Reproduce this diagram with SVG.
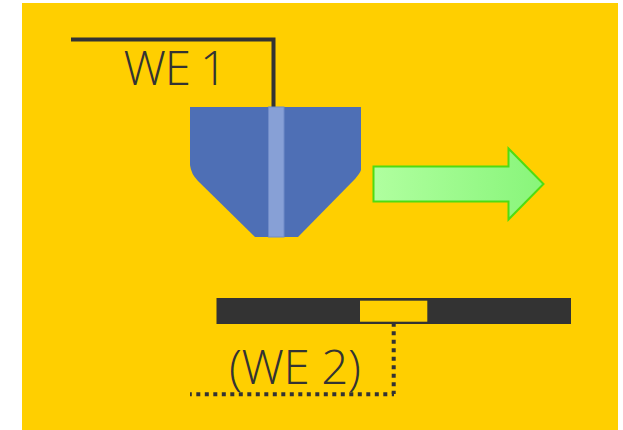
<svg xmlns="http://www.w3.org/2000/svg" width="623" height="430" viewBox="0 0 623 430">
<style>
.t{font-family:"Open Sans","Noto Sans","Liberation Sans",sans-serif;font-weight:300;font-size:47.500px;letter-spacing:-1px;fill:#333}
.w{fill:none;stroke:#333}
</style>
<defs><linearGradient id="g" x1="0" x2="1" y1="0" y2="0"><stop offset="0" stop-color="#b0ff9f"/><stop offset="1" stop-color="#88f57a"/></linearGradient></defs>
<rect id="background" x="22" y="3" width="596" height="427" fill="#ffcf00"/>
<g id="connectors">
<path class="w" stroke-width="4" d="M71 39.500H273.500V107"/>
<path class="w" stroke-width="4" stroke-dasharray="4 4.500" d="M393.700 322.800V394"/>
<path class="w" stroke-width="4" stroke-dasharray="4 4.500" stroke-dashoffset="2.200" d="M190 394.300H394"/>
</g>
<g id="we1-electrode">
<path d="M190 107H361V170Q360 173 355 179L298 237H255L198 181Q191 174 190 165Z" fill="#4e6fb5"/>
<rect x="268.500" y="107" width="15.500" height="130" fill="#87a0d6" stroke="#6f8bc8" stroke-width="1"/>
</g>
<g id="we1-label"><text class="t" x="123.500" y="85" word-spacing="-1.500">WE 1</text></g>
<g id="arrow"><path d="M373.500 166.500H508.500V148.500L543.500 184L508.500 219.500V201.500H373.500Z" fill="url(#g)" stroke="#4fdc12" stroke-width="2"/></g>
<g id="we2-electrode">
<rect x="216.500" y="298" width="354.500" height="26" fill="#333"/>
<rect x="360" y="300.700" width="67.300" height="21" fill="#ffcf00"/>
</g>
<g id="we2-label"><text class="t" x="229" y="384" style="letter-spacing:-0.400px">(WE 2)</text></g>
</svg>
